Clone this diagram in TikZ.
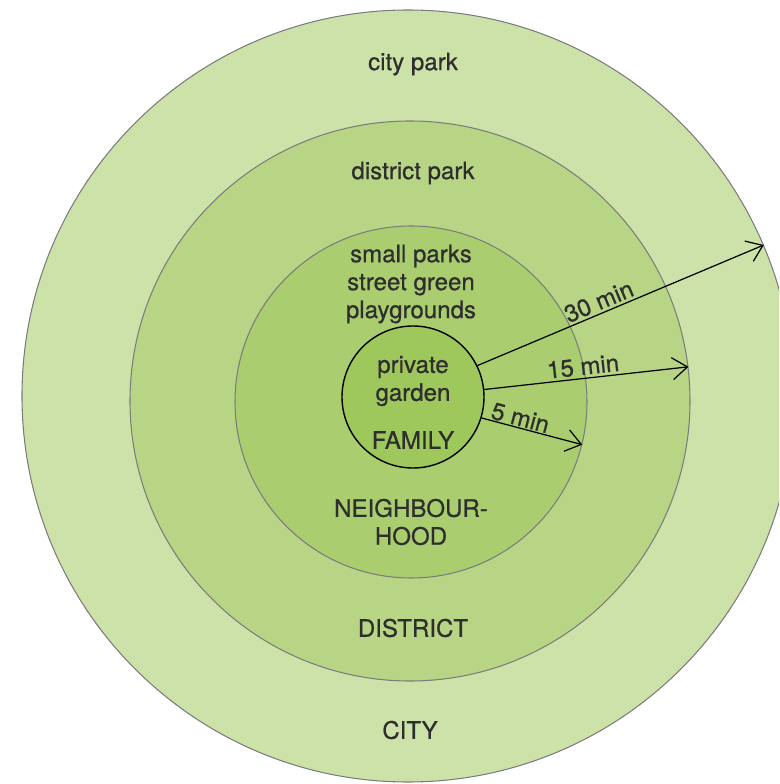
\documentclass[tikz,border=0pt]{standalone}
\usepackage{fontspec}
\setmainfont{TeX Gyre Heros}
\newfontfamily\zonefont[FakeBold=0.6]{TeX Gyre Heros}
\usepackage{tikz}
\usetikzlibrary{arrows.meta}

\definecolor{citygreen}{HTML}{CDE2A8}
\definecolor{districtgreen}{HTML}{B8D586}
\definecolor{hoodgreen}{HTML}{AACD70}
\definecolor{familygreen}{HTML}{9FC85C}
\definecolor{ringline}{HTML}{7C7C7C}
\definecolor{labelgrey}{HTML}{2E2E2E}

\tikzset{
  ring/.style={circle, draw=ringline, line width=0.6pt, inner sep=0pt},
  zone/.style={text=labelgrey, font=\fontsize{13.7}{15.9}\zonefont, align=center},
  walk/.style={-{Straight Barb[length=3mm,width=4.4mm]}, line width=0.7pt},
  minute/.style={zone, above, sloped, inner sep=1.5pt}
}

\begin{document}
\begin{tikzpicture}

			\clip (-8.16,-7.76) rectangle (7.42,7.92);

			% the four rings, largest first
			\node (city) [ring, fill=citygreen, minimum size=15.44cm] at (0,0) {};
			\node (district) [ring, fill=districtgreen, minimum size=11.2cm] at (0.04,-0.1) {};
			\node (hood) [ring, fill=hoodgreen, minimum size=7.04cm] at (0.06,-0.12) {};
			\node (family) [ring, draw=black, line width=0.8pt, fill=familygreen, minimum size=2.84cm] at (0.1,-0.02) {};

			% walking times
			\draw [walk] (family.26) -- node [minute, pos=0.44] {30 min} (city.23);
			\draw [walk] (family.6) -- node [minute, pos=0.49] {15 min} (district.7);
			\draw [walk] (family.-17) -- node [minute, pos=0.36, inner sep=0.5pt] {5 min} (hood.-14);

			\node (citypark) [zone] at (0.1,6.64) {city park};
			\node (districtpark) [zone] at (0.1,4.46) {district park};
			\node (smallparks) [zone] at (0.06,2.24) {small parks\\street green\\playgrounds};
			\node (garden) [zone] at (0.1,0.3) {private\\garden};

			\node (familyname) [zone] at (0.1,-0.88) {FAMILY};
			\node (hoodname) [zone] at (0.06,-2.52) {NEIGHBOUR-\\HOOD};
			\node (districtname) [zone] at (0.1,-4.64) {DISTRICT};
			\node (cityname) [zone] at (0.04,-6.68) {CITY};

		\end{tikzpicture}
\end{document}
